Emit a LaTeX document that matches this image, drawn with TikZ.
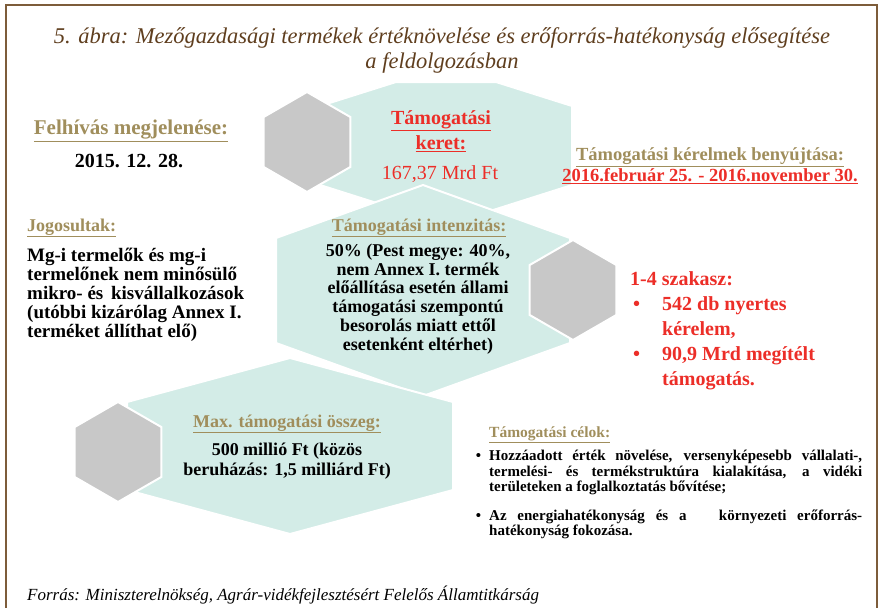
\documentclass[tikz,border=0pt]{standalone}
\usepackage{fontspec}
\setmainfont{Liberation Serif}
\usetikzlibrary{shapes.geometric}

\definecolor{hexteal}{RGB}{211,236,231}
\definecolor{hexgrey}{RGB}{200,200,200}
\definecolor{framebrown}{RGB}{125,92,58}
\definecolor{titlebrown}{RGB}{95,62,30}
\definecolor{headtan}{RGB}{160,142,92}
\definecolor{keyred}{RGB}{236,46,40}

\tikzset{
  every node/.append style={inner sep=0pt},
  tealhex/.style={fill=hexteal, draw=white, line width=2pt},
  greyhex/.style={regular polygon, regular polygon sides=6, shape border rotate=90,
    minimum size=100pt, fill=hexgrey, draw=white, line width=2pt},
  titletext/.style={align=center, text=titlebrown, font=\itshape\fontsize{22.5}{25}\selectfont},
  headtext/.style={text=headtan, font=\bfseries\fontsize{18}{20}\selectfont},
  bodytext/.style={text=black, font=\bfseries\fontsize{18}{18.8}\selectfont},
  redtext/.style={text=keyred, font=\bfseries\fontsize{20}{25}\selectfont},
  smalltext/.style={text=black, font=\bfseries\fontsize{15}{15.5}\selectfont},
  sourcetext/.style={text=black, font=\itshape\fontsize{17}{20}\selectfont}
}

\begin{document}
\begin{tikzpicture}[x=1pt,y=-1pt]
\useasboundingbox (0,0) rectangle (884,608);
% keret
\draw[framebrown, line width=1.6pt] (6,615) -- (6,5) -- (877,5) -- (877,615);

\node[titletext] (title) at (442,50)
  {5. ábra: Mezőgazdasági termékek értéknövelése és erőforrás-hatékonyság elősegítése\\
   a feldolgozásban};

% hatszogek
\filldraw[tealhex] (396,82) -- (496,82) -- (572,106) -- (572,185) -- (446,225)
  -- (320,185) -- (320,106) -- cycle;
\filldraw[tealhex] (423,185) -- (570,238) -- (570,343) -- (423,396) -- (276,343)
  -- (276,238) -- cycle;
\filldraw[tealhex] (290,358) -- (453,402) -- (453,490) -- (290,534) -- (127,490)
  -- (127,402) -- cycle;
\node[greyhex] (hexa) at (307,142) {};
\node[greyhex] (hexb) at (573,290) {};
\node[greyhex] (hexc) at (118,452) {};

% felhivas
\node[headtext, font=\bfseries\fontsize{21}{22}\selectfont] (felhivas) at (131,131)
  {\underline{Felhívás megjelenése:}};
\node[bodytext, font=\bfseries\fontsize{20}{22}\selectfont] (datum) at (129,161) {2015. 12. 28.};

% keret
\node[redtext, align=center] (keret) at (441,131) {\underline{Támogatási}\\\underline{keret:}};
\node[redtext, font=\fontsize{20}{22}\selectfont] (osszeg) at (440,174) {167,37 Mrd Ft};

% benyujtas
\node[headtext, font=\bfseries\fontsize{18.5}{20}\selectfont] (benyujtas) at (710,157)
  {\underline{Támogatási kérelmek benyújtása:}};
\node[redtext, font=\bfseries\fontsize{18.5}{20}\selectfont] (hatarido) at (710,176)
  {\underline{2016.február 25. - 2016.november 30.}};

% jogosultak
\node[headtext, anchor=west] (jogosultak) at (27,228) {\underline{Jogosultak:}};
\node[bodytext, font=\bfseries\fontsize{19}{19}\selectfont, align=left, anchor=west]
  (jogszoveg) at (27,295)
  {Mg-i termelők és mg-i\\
   termelőnek nem minősülő\\
   mikro- és\hspace{3pt} kisvállalkozások\\
   (utóbbi kizárólag Annex I.\\
   terméket állíthat elő)};

% intenzitas
\node[headtext] (intenzitas) at (419,228) {\underline{Támogatási intenzitás:}};
\node[bodytext, align=center] (intszoveg) at (418,299)
  {50\% (Pest megye: 40\%,\\
   nem Annex I. termék\\
   előállítása esetén állami\\
   támogatási szempontú\\
   besorolás miatt ettől\\
   esetenként eltérhet)};

% szakasz
\node[redtext, align=left, anchor=west] (szakasz) at (630,331)
  {1-4 szakasz:\\
   \hspace*{3pt}\makebox[29pt][l]{•}542 db nyertes\\
   \hspace*{32pt}kérelem,\\
   \hspace*{3pt}\makebox[29pt][l]{•}90,9 Mrd megítélt\\
   \hspace*{32pt}támogatás.};

% max osszeg
\node[headtext] (maxosszeg) at (287,424) {\underline{Max. támogatási összeg:}};
\node[bodytext, font=\bfseries\fontsize{18}{20}\selectfont, align=center] (maxszoveg) at (287,461)
  {500 millió Ft (közös\\
   beruházás: 1,5 milliárd Ft)};

% celok
\node[headtext, font=\bfseries\fontsize{15.5}{17}\selectfont, anchor=west] (celok) at (489,435)
  {\underline{Támogatási célok:}};
\node[smalltext, text width=373pt, align=justify, anchor=north west] (celszoveg) at (489,450)
  {\hyphenpenalty=10000
   \noindent\llap{•\hspace{8pt}}Hozzáadott érték növelése, versenyképesebb vállalati-,\linebreak
   termelési- és termékstruktúra kialakítása, a vidéki\linebreak
   területeken a foglalkoztatás bővítése;\par\vspace{13pt}
   \noindent\llap{•\hspace{8pt}}Az energiahatékonyság és a \ \ környezeti erőforrás-\linebreak
   hatékonyság fokozása.};

% forras
\node[sourcetext, anchor=west] (forras) at (27,595)
  {Forrás: Miniszterelnökség, Agrár-vidékfejlesztésért Felelős Államtitkárság};
\end{tikzpicture}
\end{document}
